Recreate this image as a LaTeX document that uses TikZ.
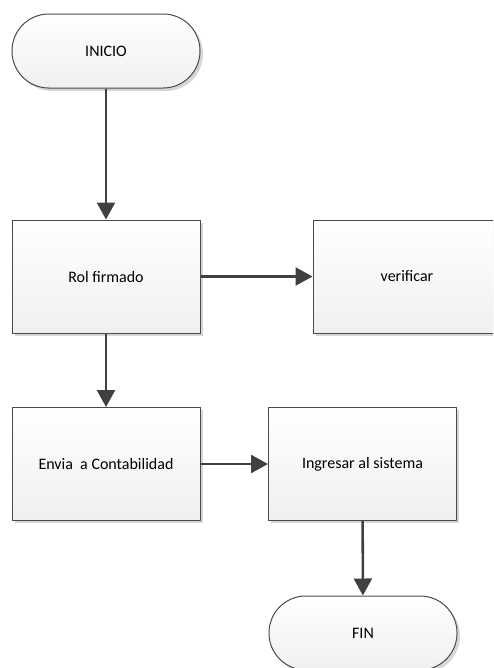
\documentclass[tikz,border=0pt]{standalone}
\usepackage{fontspec}
\setmainfont{Carlito}
\usepackage{tikz}
\usetikzlibrary{arrows.meta,positioning,shadows}
\definecolor{edge}{HTML}{4A4A4A}
\definecolor{flow}{HTML}{404040}

\begin{document}
\begin{tikzpicture}[x=0.75pt,y=-0.75pt,font=\fontsize{12}{14}\selectfont,
  flowarrow/.style={-{Triangle[length=12.75pt,width=13.5pt]},line width=1.9pt,draw=flow},
  shaded/.style={draw=edge,line width=0.75pt,top color=white,bottom color=black!6,
    drop shadow={shadow xshift=2.2pt,shadow yshift=-2.2pt,fill=black!16,opacity=1}},
  terminal/.style={shaded,rounded corners=27.6pt,minimum width=141pt,minimum height=55.5pt,inner sep=2pt,align=center},
  process/.style={shaded,minimum width=141pt,minimum height=84.75pt,inner sep=2pt,align=center}]
\clip (0,0) rectangle (493,668);
\node[terminal] (ini) at (106,51) {INICIO};
\node[process] (rol) at (106,276.5) {Rol firmado};
\node[process] (ver) at (407,276.5) {verificar};
\node[process] (env) at (106,464) {Envia\ \ a Contabilidad};
\node[process] (ing) at (362.5,464) {Ingresar al sistema};
\node[terminal] (fin) at (363,633) {FIN};
\draw[flowarrow] (ini) -- (rol);
\draw[flowarrow] (rol) -- (ver);
\draw[flowarrow] (rol) -- (env);
\draw[flowarrow] (env) -- (ing);
\draw[flowarrow] (ing) -- (fin);
\end{tikzpicture}
\end{document}
